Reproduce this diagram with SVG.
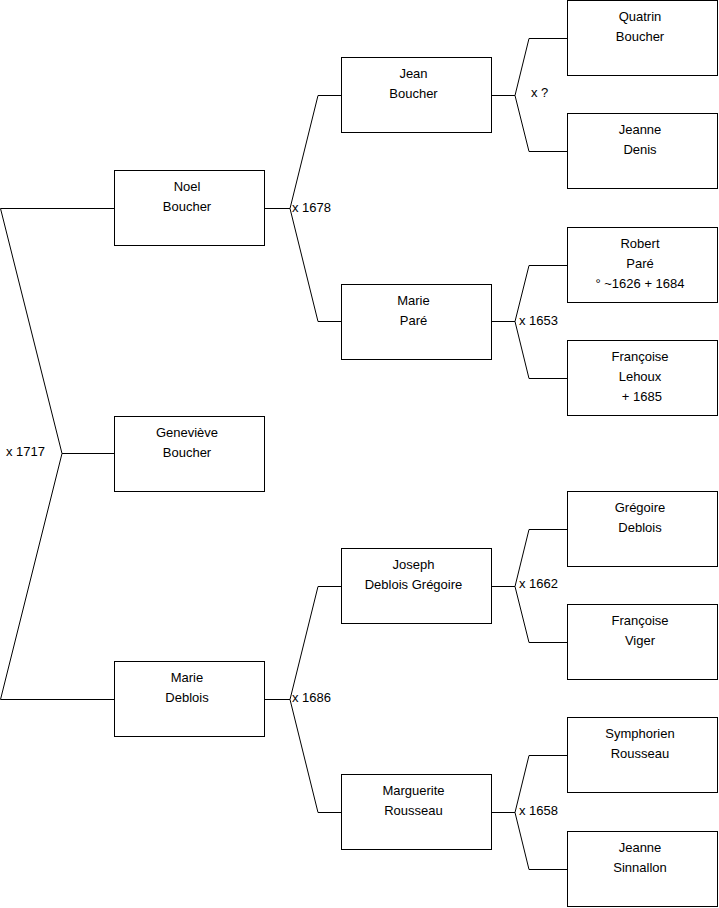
<svg xmlns="http://www.w3.org/2000/svg" width="719" height="908" viewBox="0 0 719 908">
<style>
.box{fill:#fff;stroke:#000;stroke-width:1}
.t{font-family:"Liberation Sans",Arial,sans-serif;font-size:13px;fill:#000;text-anchor:middle}
.l{font-family:"Liberation Sans",Arial,sans-serif;font-size:13px;fill:#000}
.c{fill:none;stroke:#000;stroke-width:1}
</style>
<rect width="719" height="908" fill="#fff"/>
<g id="connectors">
<path class="c" d="M114,208.5H0.5L62,453.5L0.5,699.5H114M62,453.5H114"/>
<path class="c" d="M265,208.5H290L318,95.5H341M290,208.5L318,321.5H341"/>
<path class="c" d="M265,699.5H290L318,586.5H341M290,699.5L318,812.5H341"/>
<path class="c" d="M492,95.5H515L529,38.5H567M515,95.5L529,151.5H567"/>
<path class="c" d="M492,321.5H515L529,265.5H567M515,321.5L529,378.5H567"/>
<path class="c" d="M492,586.5H515L529,529.5H567M515,586.5L529,642.5H567"/>
<path class="c" d="M492,812.5H515L529,755.5H567M515,812.5L529,869.5H567"/>
<text class="l" x="6" y="456">x 1717</text>
<text class="l" x="292" y="212">x 1678</text>
<text class="l" x="292" y="702">x 1686</text>
<text class="l" x="531" y="97">x ?</text>
<text class="l" x="519" y="325">x 1653</text>
<text class="l" x="519" y="588">x 1662</text>
<text class="l" x="519" y="815">x 1658</text>
</g>
<g id="noel"><rect class="box" x="114.5" y="170.5" width="150" height="75"/><text class="t" x="187" y="191">Noel</text><text class="t" x="187" y="211">Boucher</text></g>
<g id="genevieve"><rect class="box" x="114.5" y="416.5" width="150" height="75"/><text class="t" x="187" y="437">Geneviève</text><text class="t" x="187" y="457">Boucher</text></g>
<g id="marie-deblois"><rect class="box" x="114.5" y="661.5" width="150" height="75"/><text class="t" x="187" y="682">Marie</text><text class="t" x="187" y="702">Deblois</text></g>
<g id="jean"><rect class="box" x="341.5" y="57.5" width="150" height="75"/><text class="t" x="413.5" y="78">Jean</text><text class="t" x="413.5" y="98">Boucher</text></g>
<g id="marie-pare"><rect class="box" x="341.5" y="284.5" width="150" height="75"/><text class="t" x="413.5" y="305">Marie</text><text class="t" x="413.5" y="325">Paré</text></g>
<g id="joseph"><rect class="box" x="341.5" y="548.5" width="150" height="75"/><text class="t" x="413.5" y="569">Joseph</text><text class="t" x="413.5" y="589">Deblois Grégoire</text></g>
<g id="marguerite"><rect class="box" x="341.5" y="774.5" width="150" height="75"/><text class="t" x="413.5" y="795">Marguerite</text><text class="t" x="413.5" y="815">Rousseau</text></g>
<g id="quatrin"><rect class="box" x="567.5" y="0.5" width="150" height="75"/><text class="t" x="640" y="21">Quatrin</text><text class="t" x="640" y="41">Boucher</text></g>
<g id="jeanne-denis"><rect class="box" x="567.5" y="113.5" width="150" height="75"/><text class="t" x="640" y="134">Jeanne</text><text class="t" x="640" y="154">Denis</text></g>
<g id="robert"><rect class="box" x="567.5" y="227.5" width="150" height="75"/><text class="t" x="640" y="248">Robert</text><text class="t" x="640" y="268">Paré</text><text class="t" x="640" y="288">° ~1626 + 1684</text></g>
<g id="francoise-lehoux"><rect class="box" x="567.5" y="340.5" width="150" height="75"/><text class="t" x="640" y="361">Françoise</text><text class="t" x="640" y="381">Lehoux</text><text class="t" x="640" y="401">&#160;+ 1685</text></g>
<g id="gregoire"><rect class="box" x="567.5" y="491.5" width="150" height="75"/><text class="t" x="640" y="512">Grégoire</text><text class="t" x="640" y="532">Deblois</text></g>
<g id="francoise-viger"><rect class="box" x="567.5" y="604.5" width="150" height="75"/><text class="t" x="640" y="625">Françoise</text><text class="t" x="640" y="645">Viger</text></g>
<g id="symphorien"><rect class="box" x="567.5" y="717.5" width="150" height="75"/><text class="t" x="640" y="738">Symphorien</text><text class="t" x="640" y="758">Rousseau</text></g>
<g id="jeanne-sinnallon"><rect class="box" x="567.5" y="831.5" width="150" height="75"/><text class="t" x="640" y="852">Jeanne</text><text class="t" x="640" y="872">Sinnallon</text></g>
</svg>
